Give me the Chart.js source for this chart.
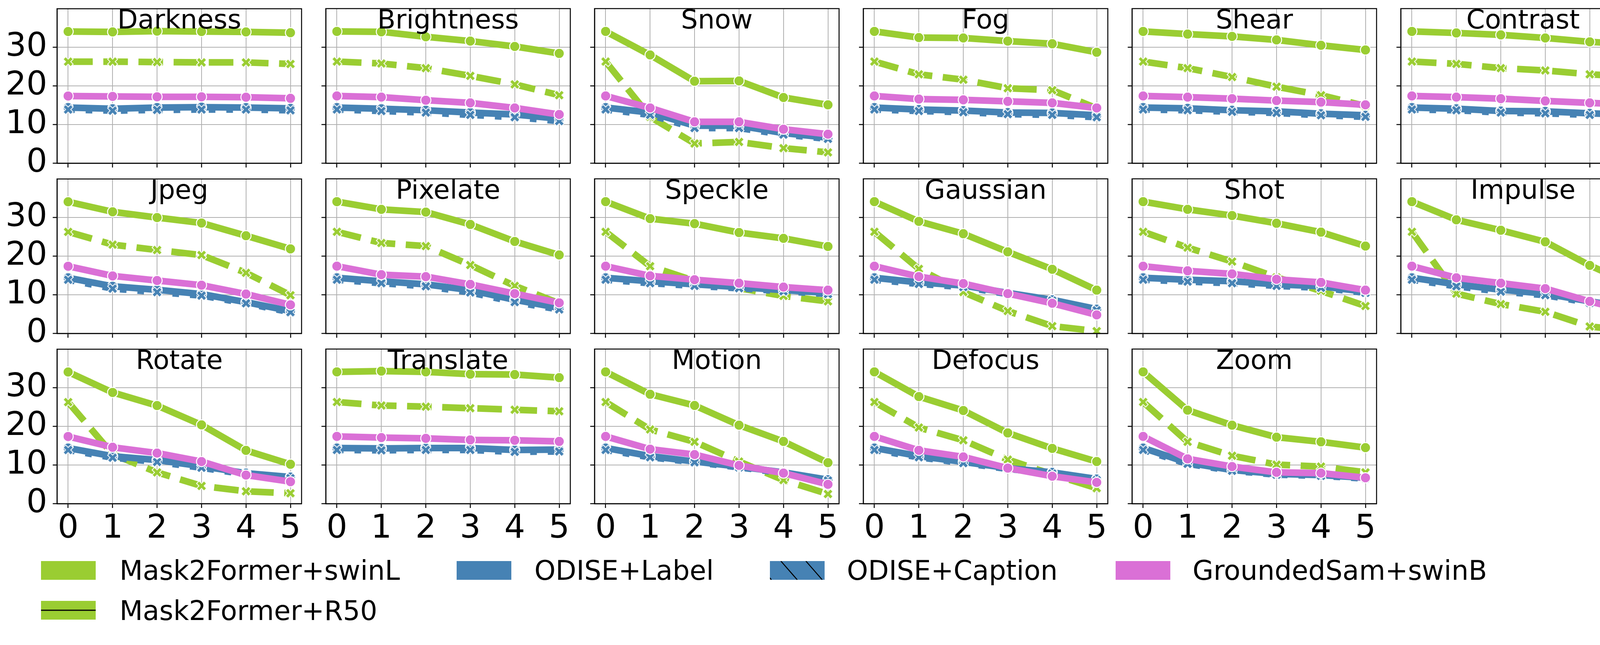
<!DOCTYPE html>
<html>
<head>
<meta charset="utf-8">
<script src="https://cdn.jsdelivr.net/npm/chart.js@4.4.1/dist/chart.umd.min.js"></script>
<style>
html, body { margin: 0; padding: 0; background: #fff; }
body { width: 4235px; height: 1652px; position: relative; overflow: hidden; font-family: "DejaVu Sans", sans-serif; }
.panel { position: absolute; }
.leg-patch { position: absolute; width: 140px; height: 48px; }
.leg-text { position: absolute; font-family: "DejaVu Sans", sans-serif; font-size: 69px; line-height: 69px; white-space: nowrap; color: #000; }
</style>
</head>
<body>
<div id="panels"></div>

<!-- legend -->
<div class="leg-patch" style="left:105px;top:1437px;background:#9acd32;"></div>
<div class="leg-text" style="left:306px;top:1427px;">Mask2Former+swinL</div>
<div class="leg-patch" style="left:1169px;top:1437px;background:#4682b4;"></div>
<div class="leg-text" style="left:1368px;top:1427px;">ODISE+Label</div>
<svg class="leg-patch" style="left:1971px;top:1437px;" width="140" height="48" viewBox="0 0 140 48">
  <rect x="0" y="0" width="140" height="48" fill="#4682b4"/>
  <g stroke="#000" stroke-width="2.5">
    <line x1="-38" y1="0" x2="4" y2="48"/>
    <line x1="28" y1="0" x2="70" y2="48"/>
    <line x1="92" y1="0" x2="134" y2="48"/>
  </g>
</svg>
<div class="leg-text" style="left:2168px;top:1427px;">ODISE+Caption</div>
<div class="leg-patch" style="left:2856px;top:1437px;background:#da70d6;"></div>
<div class="leg-text" style="left:3053px;top:1427px;">GroundedSam+swinB</div>
<svg class="leg-patch" style="left:105px;top:1539px;" width="140" height="48" viewBox="0 0 140 48">
  <rect x="0" y="0" width="140" height="48" fill="#9acd32"/>
  <line x1="0" y1="24" x2="140" y2="24" stroke="#000" stroke-width="3"/>
</svg>
<div class="leg-text" style="left:306px;top:1530px;">Mask2Former+R50</div>

<script>
// ---------------- data ----------------
const corruptions = ['Darkness','Brightness','Snow','Fog','Shear','Contrast',
                     'Jpeg','Pixelate','Speckle','Gaussian','Shot','Impulse',
                     'Rotate','Translate','Motion','Defocus','Zoom'];
const severities = [0, 1, 2, 3, 4, 5];
const yTickValues = [0, 10, 20, 30];

// one row per corruption, in the order of `corruptions`
const mask2formerSwinL = [
  [34.1, 34.0, 34.2, 34.1, 34.0, 33.8],
  [34.1, 34.0, 32.7, 31.6, 30.2, 28.4],
  [34.1, 28.0, 21.2, 21.3, 17.0, 15.1],
  [34.1, 32.5, 32.4, 31.6, 30.9, 28.7],
  [34.1, 33.4, 32.8, 31.9, 30.5, 29.3],
  [34.1, 33.7, 33.2, 32.4, 31.4, 30.7],
  [34.1, 31.5, 30.0, 28.6, 25.3, 21.9],
  [34.1, 32.1, 31.4, 28.2, 23.8, 20.3],
  [34.1, 29.7, 28.4, 26.1, 24.6, 22.5],
  [34.1, 29.0, 25.8, 21.1, 16.6, 11.2],
  [34.1, 32.1, 30.5, 28.5, 26.2, 22.6],
  [34.1, 29.4, 26.7, 23.7, 17.6, 12.4],
  [34.1, 28.8, 25.4, 20.4, 13.8, 10.2],
  [34.1, 34.3, 34.1, 33.5, 33.4, 32.6],
  [34.1, 28.3, 25.4, 20.3, 16.1, 10.6],
  [34.1, 27.7, 24.1, 18.3, 14.3, 10.9],
  [34.1, 24.2, 20.3, 17.2, 16.0, 14.5]
];
const mask2formerR50 = [
  [26.3, 26.3, 26.2, 26.1, 26.1, 25.7],
  [26.3, 25.8, 24.6, 22.6, 20.4, 17.6],
  [26.3, 12.0, 5.1, 5.5, 3.9, 2.8],
  [26.3, 23.0, 21.6, 19.4, 18.9, 14.2],
  [26.3, 24.6, 22.3, 19.8, 17.6, 14.8],
  [26.3, 25.7, 24.6, 24.0, 23.0, 22.3],
  [26.3, 23.0, 21.6, 20.3, 15.7, 9.9],
  [26.3, 23.4, 22.6, 17.7, 12.3, 7.8],
  [26.3, 17.4, 13.6, 11.7, 9.7, 8.3],
  [26.3, 16.7, 10.7, 5.8, 1.9, 0.6],
  [26.3, 22.2, 18.6, 14.5, 11.0, 7.1],
  [26.3, 10.3, 7.6, 5.6, 1.8, 0.6],
  [26.3, 12.8, 8.1, 4.6, 3.2, 2.7],
  [26.3, 25.4, 25.1, 24.7, 24.3, 23.9],
  [26.3, 19.2, 16.0, 10.9, 6.1, 2.5],
  [26.3, 19.7, 16.4, 11.4, 7.6, 4.0],
  [26.3, 16.0, 12.4, 10.1, 9.6, 8.1]
];
const odiseLabel = [
  [14.4, 14.1, 14.4, 14.5, 14.4, 14.2],
  [14.4, 14.1, 13.7, 13.1, 12.6, 11.5],
  [14.4, 13.1, 9.7, 9.7, 7.8, 6.6],
  [14.4, 13.9, 13.6, 13.1, 13.0, 12.4],
  [14.4, 14.2, 13.7, 13.4, 12.8, 12.4],
  [14.4, 14.1, 13.5, 13.4, 12.9, 12.5],
  [14.4, 12.2, 11.3, 10.2, 8.1, 5.8],
  [14.4, 13.5, 12.7, 11.2, 8.7, 6.6],
  [14.4, 13.5, 12.7, 12.0, 11.2, 10.5],
  [14.4, 13.2, 12.4, 10.5, 8.7, 6.3],
  [14.4, 13.9, 13.5, 12.7, 12.2, 10.8],
  [14.4, 12.7, 11.3, 10.3, 8.3, 6.5],
  [14.4, 12.3, 11.3, 9.7, 7.9, 6.9],
  [14.4, 14.3, 14.4, 14.4, 13.9, 14.0],
  [14.4, 12.3, 10.9, 9.6, 8.1, 6.2],
  [14.4, 12.3, 10.8, 9.2, 8.1, 6.4],
  [14.4, 10.6, 8.7, 7.7, 7.4, 6.7]
];
const odiseCaption = [
  [13.9, 13.6, 13.8, 13.9, 13.9, 13.7],
  [13.9, 13.5, 13.1, 12.5, 11.9, 10.9],
  [13.9, 12.5, 9.1, 9.1, 7.4, 6.3],
  [13.9, 13.5, 13.2, 12.7, 12.5, 11.9],
  [13.9, 13.7, 13.3, 13.0, 12.4, 12.0],
  [13.9, 13.7, 13.1, 12.9, 12.5, 12.1],
  [13.9, 11.6, 10.7, 9.8, 7.8, 5.5],
  [13.9, 13.0, 12.2, 10.6, 8.1, 6.2],
  [13.9, 13.0, 12.3, 11.7, 10.9, 10.2],
  [13.9, 12.8, 12.0, 10.2, 8.5, 6.0],
  [13.9, 13.4, 13.0, 12.3, 11.8, 10.5],
  [13.9, 12.2, 10.8, 9.9, 7.9, 6.2],
  [13.9, 11.9, 10.8, 9.3, 7.6, 6.6],
  [13.9, 13.8, 13.9, 13.9, 13.4, 13.5],
  [13.9, 12.0, 10.7, 9.4, 7.9, 6.0],
  [13.9, 12.0, 10.5, 9.0, 7.8, 6.1],
  [13.9, 10.3, 8.5, 7.5, 7.2, 6.5]
];
const groundedSamSwinB = [
  [17.4, 17.3, 17.2, 17.2, 17.1, 16.8],
  [17.4, 17.1, 16.3, 15.6, 14.3, 12.6],
  [17.4, 14.3, 10.7, 10.7, 8.8, 7.5],
  [17.4, 16.6, 16.4, 16.0, 15.6, 14.3],
  [17.4, 17.1, 16.7, 16.2, 15.8, 15.1],
  [17.4, 17.1, 16.7, 16.1, 15.6, 15.1],
  [17.4, 14.9, 13.7, 12.5, 10.2, 7.4],
  [17.4, 15.2, 14.7, 12.7, 10.3, 7.9],
  [17.4, 14.9, 13.9, 13.0, 12.0, 11.2],
  [17.4, 14.7, 12.9, 10.3, 7.8, 4.8],
  [17.4, 16.2, 15.4, 14.0, 13.2, 11.2],
  [17.4, 14.4, 13.0, 11.6, 8.3, 5.3],
  [17.4, 14.6, 13.1, 10.9, 7.4, 5.7],
  [17.4, 17.1, 16.9, 16.5, 16.4, 16.1],
  [17.4, 14.1, 12.7, 9.9, 7.9, 5.0],
  [17.4, 13.8, 12.1, 9.2, 7.1, 5.5],
  [17.4, 11.6, 9.6, 8.1, 7.9, 6.7]
];

// ---------------- styling / layout ----------------
const GREEN = '#9acd32', BLUE = '#4682b4', PINK = '#da70d6';
const PANEL_W = 626, PANEL_H = 396, COL0 = 146, COL_STEP = 688, ROW_TOPS = [22, 458, 894];
const PADL = 140, PADR = 12, PADT = 12, PADB = 110;
const LW = 17;

function makeXMarker(color) {
  const c = document.createElement('canvas');
  c.width = 36; c.height = 36;
  const g = c.getContext('2d');
  g.translate(18, 18);
  g.rotate(Math.PI / 4);
  const a = 4.6, L = 13.5;
  g.beginPath();
  const p = [[a,L],[a,a],[L,a],[L,-a],[a,-a],[a,-L],[-a,-L],[-a,-a],[-L,-a],[-L,a],[-a,a],[-a,L]];
  p.forEach((q, k) => k ? g.lineTo(q[0], q[1]) : g.moveTo(q[0], q[1]));
  g.closePath();
  g.fillStyle = color; g.fill();
  g.strokeStyle = '#ffffff'; g.lineWidth = 2; g.lineJoin = 'miter'; g.stroke();
  return c;
}
const xGreen = makeXMarker(GREEN);
const xBlue = makeXMarker(BLUE);

const framePlugin = {
  id: 'frameTitle',
  afterDatasetsDraw(chart, args, opts) {
    const { ctx, chartArea: a } = chart;
    ctx.save();
    ctx.strokeStyle = '#000';
    ctx.lineWidth = 2.5;
    ctx.strokeRect(a.left, a.top, a.right - a.left, a.bottom - a.top);
    ctx.fillStyle = '#000';
    ctx.font = '68px "DejaVu Sans"';
    ctx.textAlign = 'center';
    ctx.textBaseline = 'alphabetic';
    ctx.fillText(opts.text, (a.left + a.right) / 2, a.top + 51);
    ctx.restore();
  }
};

function pts(arr) { return severities.map((s, k) => ({ x: s, y: arr[k] })); }

function makeChart(cv, i, showX, showY) {
  const gridCfg = { color: '#b0b0b0', lineWidth: 2, tickColor: '#000', tickWidth: 2.5, tickLength: 11 };
  const borderCfg = { display: true, color: '#000', width: 2.5 };
  const tickFont = { family: 'DejaVu Sans', size: 84 };
  return new Chart(cv, {
    type: 'line',
    data: {
      datasets: [
        { label: 'Mask2Former+swinL', data: pts(mask2formerSwinL[i]), order: 5,
          borderColor: GREEN, backgroundColor: GREEN, borderWidth: LW, borderJoinStyle: 'round', borderCapStyle: 'round',
          pointStyle: 'circle', pointRadius: 13, pointBackgroundColor: GREEN, pointBorderColor: '#fff', pointBorderWidth: 2.5, tension: 0 },
        { label: 'Mask2Former+R50', data: pts(mask2formerR50[i]), order: 4,
          borderColor: GREEN, backgroundColor: GREEN, borderWidth: LW, borderDash: [63, 27], borderJoinStyle: 'round', borderCapStyle: 'butt',
          pointStyle: xGreen, pointRadius: 13, tension: 0 },
        { label: 'ODISE+Label', data: pts(odiseLabel[i]), order: 3,
          borderColor: BLUE, backgroundColor: BLUE, borderWidth: LW, borderJoinStyle: 'round', borderCapStyle: 'round',
          pointStyle: 'circle', pointRadius: 13, pointBackgroundColor: BLUE, pointBorderColor: '#fff', pointBorderWidth: 2.5, tension: 0 },
        { label: 'ODISE+Caption', data: pts(odiseCaption[i]), order: 2,
          borderColor: BLUE, backgroundColor: BLUE, borderWidth: LW, borderDash: [17, 28], borderJoinStyle: 'round', borderCapStyle: 'butt',
          pointStyle: xBlue, pointRadius: 13, tension: 0 },
        { label: 'GroundedSam+swinB', data: pts(groundedSamSwinB[i]), order: 1,
          borderColor: PINK, backgroundColor: PINK, borderWidth: LW, borderJoinStyle: 'round', borderCapStyle: 'round',
          pointStyle: 'circle', pointRadius: 13, pointBackgroundColor: PINK, pointBorderColor: '#fff', pointBorderWidth: 2.5, tension: 0 }
      ]
    },
    options: {
      responsive: false,
      animation: false,
      events: [],
      layout: { padding: { top: PADT, right: PADR, left: 0, bottom: 0 } },
      plugins: { legend: { display: false }, tooltip: { enabled: false }, title: { display: false }, frameTitle: { text: corruptions[i] } },
      scales: {
        x: {
          type: 'linear', min: -0.25, max: 5.25,
          afterBuildTicks: s => { s.ticks = severities.map(v => ({ value: v })); },
          afterFit: s => { s.height = PADB; },
          ticks: { display: showX, font: tickFont, color: '#000', padding: 4, maxRotation: 0, autoSkip: false },
          grid: gridCfg, border: borderCfg
        },
        y: {
          min: 0, max: 40,
          afterBuildTicks: s => { s.ticks = yTickValues.map(v => ({ value: v })); },
          afterFit: s => { s.width = PADL; },
          ticks: { display: showY, font: tickFont, color: '#000', padding: 14 },
          grid: gridCfg, border: borderCfg
        }
      }
    },
    plugins: [framePlugin]
  });
}

const container = document.getElementById('panels');
corruptions.forEach((name, i) => {
  const r = Math.floor(i / 6), c = i % 6;
  const showX = r === 2, showY = c === 0;
  const panelLeft = COL0 + c * COL_STEP, panelTop = ROW_TOPS[r];
  let w = PANEL_W + PADL + PADR, h = PANEL_H + PADT + PADB;
  let div = null, chart = null;
  for (let iter = 0; iter < 5; iter++) {
    if (chart) { chart.destroy(); div.remove(); }
    div = document.createElement('div');
    div.className = 'panel';
    div.style.width = w + 'px';
    div.style.height = h + 'px';
    const cv = document.createElement('canvas');
    cv.width = w; cv.height = h;
    cv.style.width = w + 'px'; cv.style.height = h + 'px';
    cv.style.display = 'block';
    div.appendChild(cv);
    container.appendChild(div);
    chart = makeChart(cv, i, showX, showY);
    const a = chart.chartArea;
    div.style.left = (panelLeft - a.left) + 'px';
    div.style.top = (panelTop - a.top) + 'px';
    const aw = a.right - a.left, ah = a.bottom - a.top;
    if (Math.abs(aw - PANEL_W) < 0.75 && Math.abs(ah - PANEL_H) < 0.75) break;
    w = Math.round(w + (PANEL_W - aw));
    h = Math.round(h + (PANEL_H - ah));
  }
});
</script>
</body>
</html>
